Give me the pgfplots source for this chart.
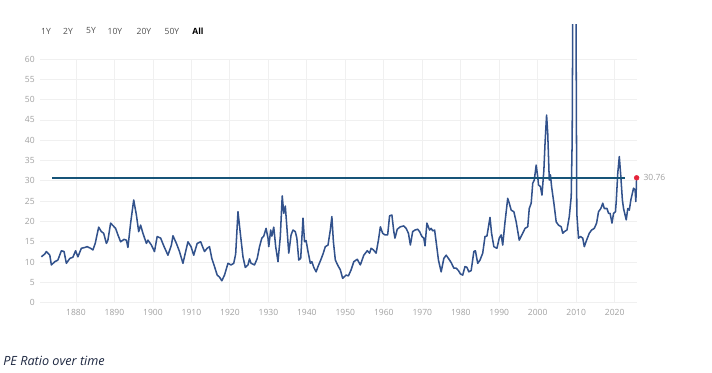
\documentclass[border=0pt]{standalone}
\usepackage{fontspec}
\setmainfont{Open Sans}
\usepackage{pgfplots}
\pgfplotsset{compat=1.18}
\definecolor{linec}{RGB}{50,82,140}
\definecolor{hlc}{RGB}{22,84,120}
\definecolor{dotc}{RGB}{229,36,59}
\definecolor{gridc}{RGB}{240,240,240}
\definecolor{tickc}{RGB}{160,160,160}
\definecolor{btnc}{RGB}{80,80,80}
\definecolor{capc}{RGB}{30,40,65}
\begin{document}
\begin{tikzpicture}
\path[use as bounding box] (-30pt,-52.725pt) rectangle (504pt,227.025pt);
\begin{axis}[
  at={(0,0)}, anchor=south west,
  scale only axis, width=447.75pt, height=208.3pt,
  xmin=1870.65, xmax=2025.8, ymin=0, ymax=68.4,
  clip mode=individual,
  axis line style={draw=none}, tick style={draw=none},
  xtick={1880,1890,...,2020}, ytick={0,5,...,60},
  ymajorgrids, major grid style={color=gridc, line width=0.6pt},
  /pgf/number format/assume math mode=true,
  /pgf/number format/1000 sep={},
  xticklabel style={font=\fontsize{6.4}{7}\selectfont, text=tickc, anchor=center, inner sep=0pt, yshift=-7.5pt},
  yticklabel style={font=\fontsize{6.4}{7}\selectfont, text=tickc, anchor=east, inner sep=0pt, xshift=-3.75pt},
]
\pgfplotsinvokeforeach{1880,1890,...,2020}{\draw[gridc, line width=0.6pt] (axis cs:#1,0) -- (axis cs:#1,60);}
\addplot[linec, line width=1.15pt, line join=round] table {
1871.0 11.3
1871.9 12.0
1872.3 12.6
1873.2 11.7
1873.6 9.3
1874.5 10.1
1875.3 10.5
1876.2 12.8
1876.9 12.6
1877.5 9.7
1878.4 10.9
1879.2 11.2
1879.9 12.8
1880.5 11.3
1881.4 13.4
1882.3 13.6
1882.9 13.8
1883.8 13.4
1884.4 13.0
1885.0 14.6
1885.9 18.6
1886.6 17.5
1887.2 17.1
1887.9 14.6
1888.3 15.4
1889.0 19.6
1889.6 19.0
1890.3 18.3
1890.9 16.7
1891.6 15.0
1892.5 15.6
1893.1 15.4
1893.5 13.6
1894.2 19.6
1895.0 25.3
1895.7 21.6
1896.3 17.5
1896.8 19.1
1897.4 17.1
1898.3 14.6
1898.7 15.4
1899.6 14.2
1900.4 12.6
1901.1 16.3
1902.0 15.9
1902.9 13.8
1903.9 11.7
1904.8 14.2
1905.2 16.5
1906.1 14.6
1906.9 12.6
1907.8 9.7
1908.6 13.0
1909.1 15.0
1909.9 13.8
1910.6 11.7
1911.5 14.6
1912.4 15.0
1913.4 12.6
1914.1 13.4
1914.7 13.8
1915.3 10.9
1916.0 8.9
1916.7 6.8
1917.3 6.3
1917.9 5.4
1918.6 6.8
1919.5 9.7
1920.3 9.3
1921.0 9.7
1921.5 12.0
1922.1 22.4
1922.8 16.3
1923.4 11.3
1924.0 8.7
1924.7 9.3
1925.1 10.8
1925.5 9.7
1926.4 9.3
1927.1 10.9
1927.7 13.8
1928.3 15.9
1928.8 16.4
1929.4 18.3
1929.9 15.9
1930.1 13.8
1930.6 17.9
1930.9 16.4
1931.4 18.6
1931.9 13.8
1932.5 10.1
1933.1 16.3
1933.6 26.3
1934.0 22.0
1934.4 23.8
1934.8 18.7
1935.3 12.2
1935.9 16.7
1936.4 17.9
1937.0 17.5
1937.4 15.9
1937.9 10.5
1938.4 10.9
1939.0 20.8
1939.4 15.0
1939.8 15.3
1940.3 12.6
1940.9 9.7
1941.3 10.1
1941.8 8.7
1942.4 7.6
1942.9 8.9
1943.6 10.5
1944.2 12.0
1944.8 13.8
1945.5 14.2
1946.1 17.9
1946.5 21.2
1946.9 15.0
1947.4 10.5
1948.1 9.1
1948.7 8.1
1949.3 6.0
1950.2 6.8
1950.8 6.6
1951.5 8.1
1952.2 10.1
1953.1 10.7
1953.9 9.3
1954.8 11.7
1955.7 12.8
1956.3 12.2
1956.7 13.4
1957.3 13.0
1958.0 12.2
1958.6 15.4
1959.1 18.7
1959.7 17.1
1960.3 16.7
1961.0 16.7
1961.5 21.4
1962.1 21.6
1962.6 17.5
1962.9 15.9
1963.5 18.1
1964.3 18.7
1965.2 18.9
1965.8 18.3
1966.4 17.1
1966.9 14.2
1967.5 17.5
1968.1 17.9
1968.8 18.1
1969.3 17.5
1969.9 16.3
1970.4 15.9
1970.7 14.0
1971.2 19.6
1971.9 17.9
1972.3 18.3
1972.7 17.7
1973.2 17.9
1973.6 15.0
1974.2 10.5
1974.9 7.6
1975.6 10.9
1976.2 11.7
1976.8 10.9
1977.5 9.9
1978.2 8.5
1978.8 8.5
1979.4 7.9
1979.9 7.1
1980.5 6.8
1981.1 8.9
1981.6 8.7
1982.1 7.6
1982.7 7.9
1983.4 12.6
1983.8 12.8
1984.4 9.7
1985.0 10.5
1985.7 12.2
1986.3 16.3
1986.8 16.4
1987.6 21.0
1988.0 17.1
1988.6 13.8
1989.4 13.4
1990.0 15.9
1990.5 16.7
1990.9 14.2
1991.5 19.9
1992.2 25.7
1992.6 24.5
1993.1 22.8
1993.8 22.4
1994.4 19.9
1995.2 15.4
1996.1 17.1
1996.7 18.3
1997.4 18.7
1997.8 23.2
1998.3 24.5
1998.7 29.4
1999.1 30.2
1999.6 33.9
2000.0 31.0
2000.2 29.0
2000.7 28.6
2001.1 26.5
2001.6 32.7
2001.9 39.3
2002.3 46.2
2002.6 41.7
2003.0 30.2
2003.3 31.5
2003.6 28.6
2004.2 24.5
2004.8 19.9
2005.4 19.1
2006.1 18.7
2006.5 17.1
2006.9 17.5
2007.6 17.9
2008.2 21.2
2008.7 26.1
2008.95 40.0
2009.1 70.0
2009.4 123.7
2009.7 110.0
2009.95 70.0
2010.15 22.0
2010.6 15.9
2011.1 16.3
2011.7 15.9
2012.1 13.8
2012.7 15.4
2013.4 17.1
2014.0 17.9
2014.7 18.3
2015.3 19.6
2015.8 22.4
2016.4 23.2
2016.9 24.5
2017.3 23.2
2018.0 23.2
2018.4 22.0
2018.8 22.0
2019.3 19.6
2019.7 22.0
2020.2 22.4
2020.4 24.9
2020.8 31.9
2021.2 36.0
2021.6 31.0
2022.0 25.3
2022.3 23.2
2023.0 20.4
2023.4 23.2
2023.8 22.8
2024.2 25.3
2024.9 28.2
2025.3 27.8
2025.5 24.9
2025.7 30.76
};
\addplot[hlc, line width=1.5pt] coordinates {(1873.8,30.76) (2022.8,30.76)};
\addplot[only marks, mark=*, mark size=1.8pt, color=dotc, clip=false] coordinates {(2025.7,30.76)};
\coordinate (last) at (axis cs:2025.7,30.76);
\end{axis}
\node[anchor=west, inner sep=0pt, xshift=5pt, font=\fontsize{6.4}{7}\selectfont, text=tickc] at (last) {30.76};
\begin{scope}[font=\fontsize{6.4}{7}\selectfont]
\node[text=btnc] at (4.5pt,203.8pt) {1Y};
\node[text=btnc] at (21pt,203.8pt) {2Y};
\node[text=btnc] at (38.25pt,203.8pt) {5Y};
\node[text=btnc] at (56.25pt,203.8pt) {10Y};
\node[text=btnc] at (78pt,203.8pt) {20Y};
\node[text=btnc] at (99pt,203.8pt) {50Y};
\node[text=black, font=\fontsize{6.4}{7}\selectfont\bfseries] at (118.5pt,203.8pt) {All};
\end{scope}
\node[anchor=west, inner sep=0pt, text=capc, font=\fontsize{9.5}{10}\selectfont\itshape] at (-27.75pt,-44pt) {PE Ratio over time};
\end{tikzpicture}
\end{document}
